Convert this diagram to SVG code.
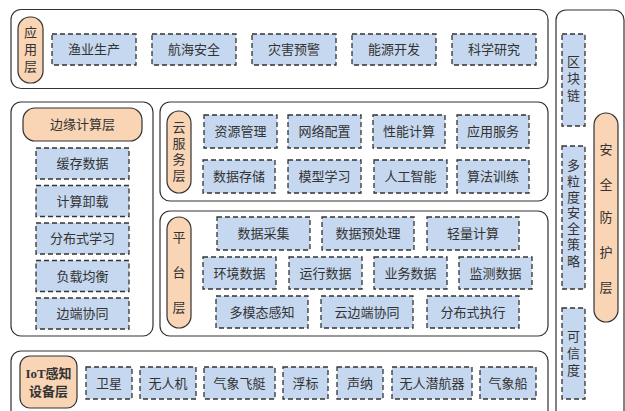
<svg xmlns="http://www.w3.org/2000/svg" width="625" height="411" viewBox="0 0 625 411">
<style>
.outer{fill:#ffffff;stroke:#333333;stroke-width:1.2}
.pill{fill:#f9d5b6;stroke:#333333;stroke-width:1.2}
.box{fill:#c6d8ef;stroke:#333333;stroke-width:1.3;stroke-dasharray:5 3}
text{font-family:"Liberation Serif","Noto Sans CJK SC",serif;font-size:13px;fill:#333333;text-anchor:middle}
.b{font-weight:bold}
</style>
<rect width="625" height="411" fill="#ffffff"/>

<g id="layer-app">
<rect class="outer" x="11" y="9.5" width="537" height="79" rx="10"/>
<g id="app-label"><rect class="pill" x="18" y="17" width="25" height="66" rx="12"/>
<text x="30.5" y="37">应</text><text x="30.5" y="54">用</text><text x="30.5" y="71">层</text></g>
<g id="app-1"><rect class="box" x="52" y="34" width="84" height="31"/><text x="94" y="54">渔业生产</text></g>
<g id="app-2"><rect class="box" x="152" y="34" width="84" height="31"/><text x="194" y="54">航海安全</text></g>
<g id="app-3"><rect class="box" x="252" y="34" width="84" height="31"/><text x="294" y="54">灾害预警</text></g>
<g id="app-4"><rect class="box" x="352" y="34" width="84" height="31"/><text x="394" y="54">能源开发</text></g>
<g id="app-5"><rect class="box" x="452" y="34" width="84" height="31"/><text x="494" y="54">科学研究</text></g>
</g>

<g id="layer-edge">
<rect class="outer" x="11" y="102" width="142" height="234" rx="10"/>
<g id="edge-label"><rect class="pill" x="23" y="108" width="119" height="33" rx="12"/><text x="82.5" y="129">边缘计算层</text></g>
<g id="edge-1"><rect class="box" x="36" y="148" width="93" height="31"/><text x="82.5" y="168">缓存数据</text></g>
<g id="edge-2"><rect class="box" x="36" y="185.5" width="93" height="31"/><text x="82.5" y="205.5">计算卸载</text></g>
<g id="edge-3"><rect class="box" x="36" y="223" width="93" height="31"/><text x="82.5" y="243">分布式学习</text></g>
<g id="edge-4"><rect class="box" x="36" y="260.5" width="93" height="31"/><text x="82.5" y="280.5">负载均衡</text></g>
<g id="edge-5"><rect class="box" x="36" y="298" width="93" height="31"/><text x="82.5" y="318">边端协同</text></g>
</g>

<g id="layer-cloud">
<rect class="outer" x="160" y="102" width="388" height="99" rx="10"/>
<g id="cloud-label"><rect class="pill" x="167" y="111" width="24" height="82" rx="12"/>
<text x="179" y="132">云</text><text x="179" y="148">服</text><text x="179" y="164">务</text><text x="179" y="180">层</text></g>
<g id="cloud-1"><rect class="box" x="204" y="115" width="73" height="33"/><text x="240.5" y="136">资源管理</text></g>
<g id="cloud-2"><rect class="box" x="288" y="115" width="73" height="33"/><text x="324.5" y="136">网络配置</text></g>
<g id="cloud-3"><rect class="box" x="373" y="115" width="72" height="33"/><text x="409" y="136">性能计算</text></g>
<g id="cloud-4"><rect class="box" x="457" y="115" width="72" height="33"/><text x="493" y="136">应用服务</text></g>
<g id="cloud-5"><rect class="box" x="203" y="160" width="72" height="33"/><text x="239" y="181">数据存储</text></g>
<g id="cloud-6"><rect class="box" x="288" y="160" width="73" height="33"/><text x="324.5" y="181">模型学习</text></g>
<g id="cloud-7"><rect class="box" x="374" y="160" width="73" height="33"/><text x="410.5" y="181">人工智能</text></g>
<g id="cloud-8"><rect class="box" x="457" y="160" width="72" height="33"/><text x="493" y="181">算法训练</text></g>
</g>

<g id="layer-platform">
<rect class="outer" x="160" y="211" width="388" height="125" rx="10"/>
<g id="platform-label"><rect class="pill" x="167" y="217" width="24" height="111" rx="12"/>
<text x="179" y="242">平</text><text x="179" y="277">台</text><text x="179" y="312">层</text></g>
<g id="plat-1"><rect class="box" x="217" y="217" width="93" height="33"/><text x="263.5" y="238">数据采集</text></g>
<g id="plat-2"><rect class="box" x="322" y="217" width="92" height="33"/><text x="368" y="238">数据预处理</text></g>
<g id="plat-3"><rect class="box" x="427" y="217" width="92" height="33"/><text x="473" y="238">轻量计算</text></g>
<g id="plat-4"><rect class="box" x="203" y="257" width="73" height="32"/><text x="239.5" y="277.5">环境数据</text></g>
<g id="plat-5"><rect class="box" x="289" y="257" width="73" height="32"/><text x="325.5" y="277.5">运行数据</text></g>
<g id="plat-6"><rect class="box" x="374" y="257" width="73" height="32"/><text x="410.5" y="277.5">业务数据</text></g>
<g id="plat-7"><rect class="box" x="459" y="257" width="73" height="32"/><text x="495.5" y="277.5">监测数据</text></g>
<g id="plat-8"><rect class="box" x="216" y="296" width="92" height="32"/><text x="262" y="316.5">多模态感知</text></g>
<g id="plat-9"><rect class="box" x="321" y="296" width="92" height="32"/><text x="367" y="316.5">云边端协同</text></g>
<g id="plat-10"><rect class="box" x="427" y="296" width="92" height="32"/><text x="473" y="316.5">分布式执行</text></g>
</g>

<g id="layer-iot">
<rect class="outer" x="11" y="351" width="537" height="70" rx="10"/>
<g id="iot-label"><rect class="pill" x="20" y="356" width="57" height="52" rx="10"/>
<text class="b" x="48.5" y="378">IoT感知</text><text class="b" x="48.5" y="396">设备层</text></g>
<g id="iot-1"><rect class="box" x="86" y="367" width="46" height="32"/><text x="109" y="387.5">卫星</text></g>
<g id="iot-2"><rect class="box" x="140" y="367" width="56" height="32"/><text x="168" y="387.5">无人机</text></g>
<g id="iot-3"><rect class="box" x="204" y="367" width="71" height="32"/><text x="239.5" y="387.5">气象飞艇</text></g>
<g id="iot-4"><rect class="box" x="283" y="367" width="45" height="32"/><text x="305.5" y="387.5">浮标</text></g>
<g id="iot-5"><rect class="box" x="337" y="367" width="46" height="32"/><text x="360" y="387.5">声纳</text></g>
<g id="iot-6"><rect class="box" x="392" y="367" width="80" height="32"/><text x="432" y="387.5">无人潜航器</text></g>
<g id="iot-7"><rect class="box" x="480" y="367" width="56" height="32"/><text x="508" y="387.5">气象船</text></g>
</g>

<g id="layer-security">
<rect class="outer" x="556" y="10" width="68" height="410" rx="10"/>
<g id="sec-1"><rect class="box" x="562" y="34" width="23" height="92"/>
<text x="573.5" y="66">区</text><text x="573.5" y="83">块</text><text x="573.5" y="100">链</text></g>
<g id="sec-2"><rect class="box" x="562" y="146" width="23" height="143"/>
<text x="573.5" y="170">多</text><text x="573.5" y="186">粒</text><text x="573.5" y="202">度</text><text x="573.5" y="217">安</text><text x="573.5" y="233">全</text><text x="573.5" y="249">策</text><text x="573.5" y="266">略</text></g>
<g id="sec-3"><rect class="box" x="562" y="308" width="23" height="91"/>
<text x="573.5" y="341">可</text><text x="573.5" y="358">信</text><text x="573.5" y="375">度</text></g>
<g id="sec-label"><rect class="pill" x="594" y="113" width="24" height="209" rx="12"/>
<text x="606" y="154">安</text><text x="606" y="189">全</text><text x="606" y="222">防</text><text x="606" y="257">护</text><text x="606" y="292">层</text></g>
</g>
</svg>
